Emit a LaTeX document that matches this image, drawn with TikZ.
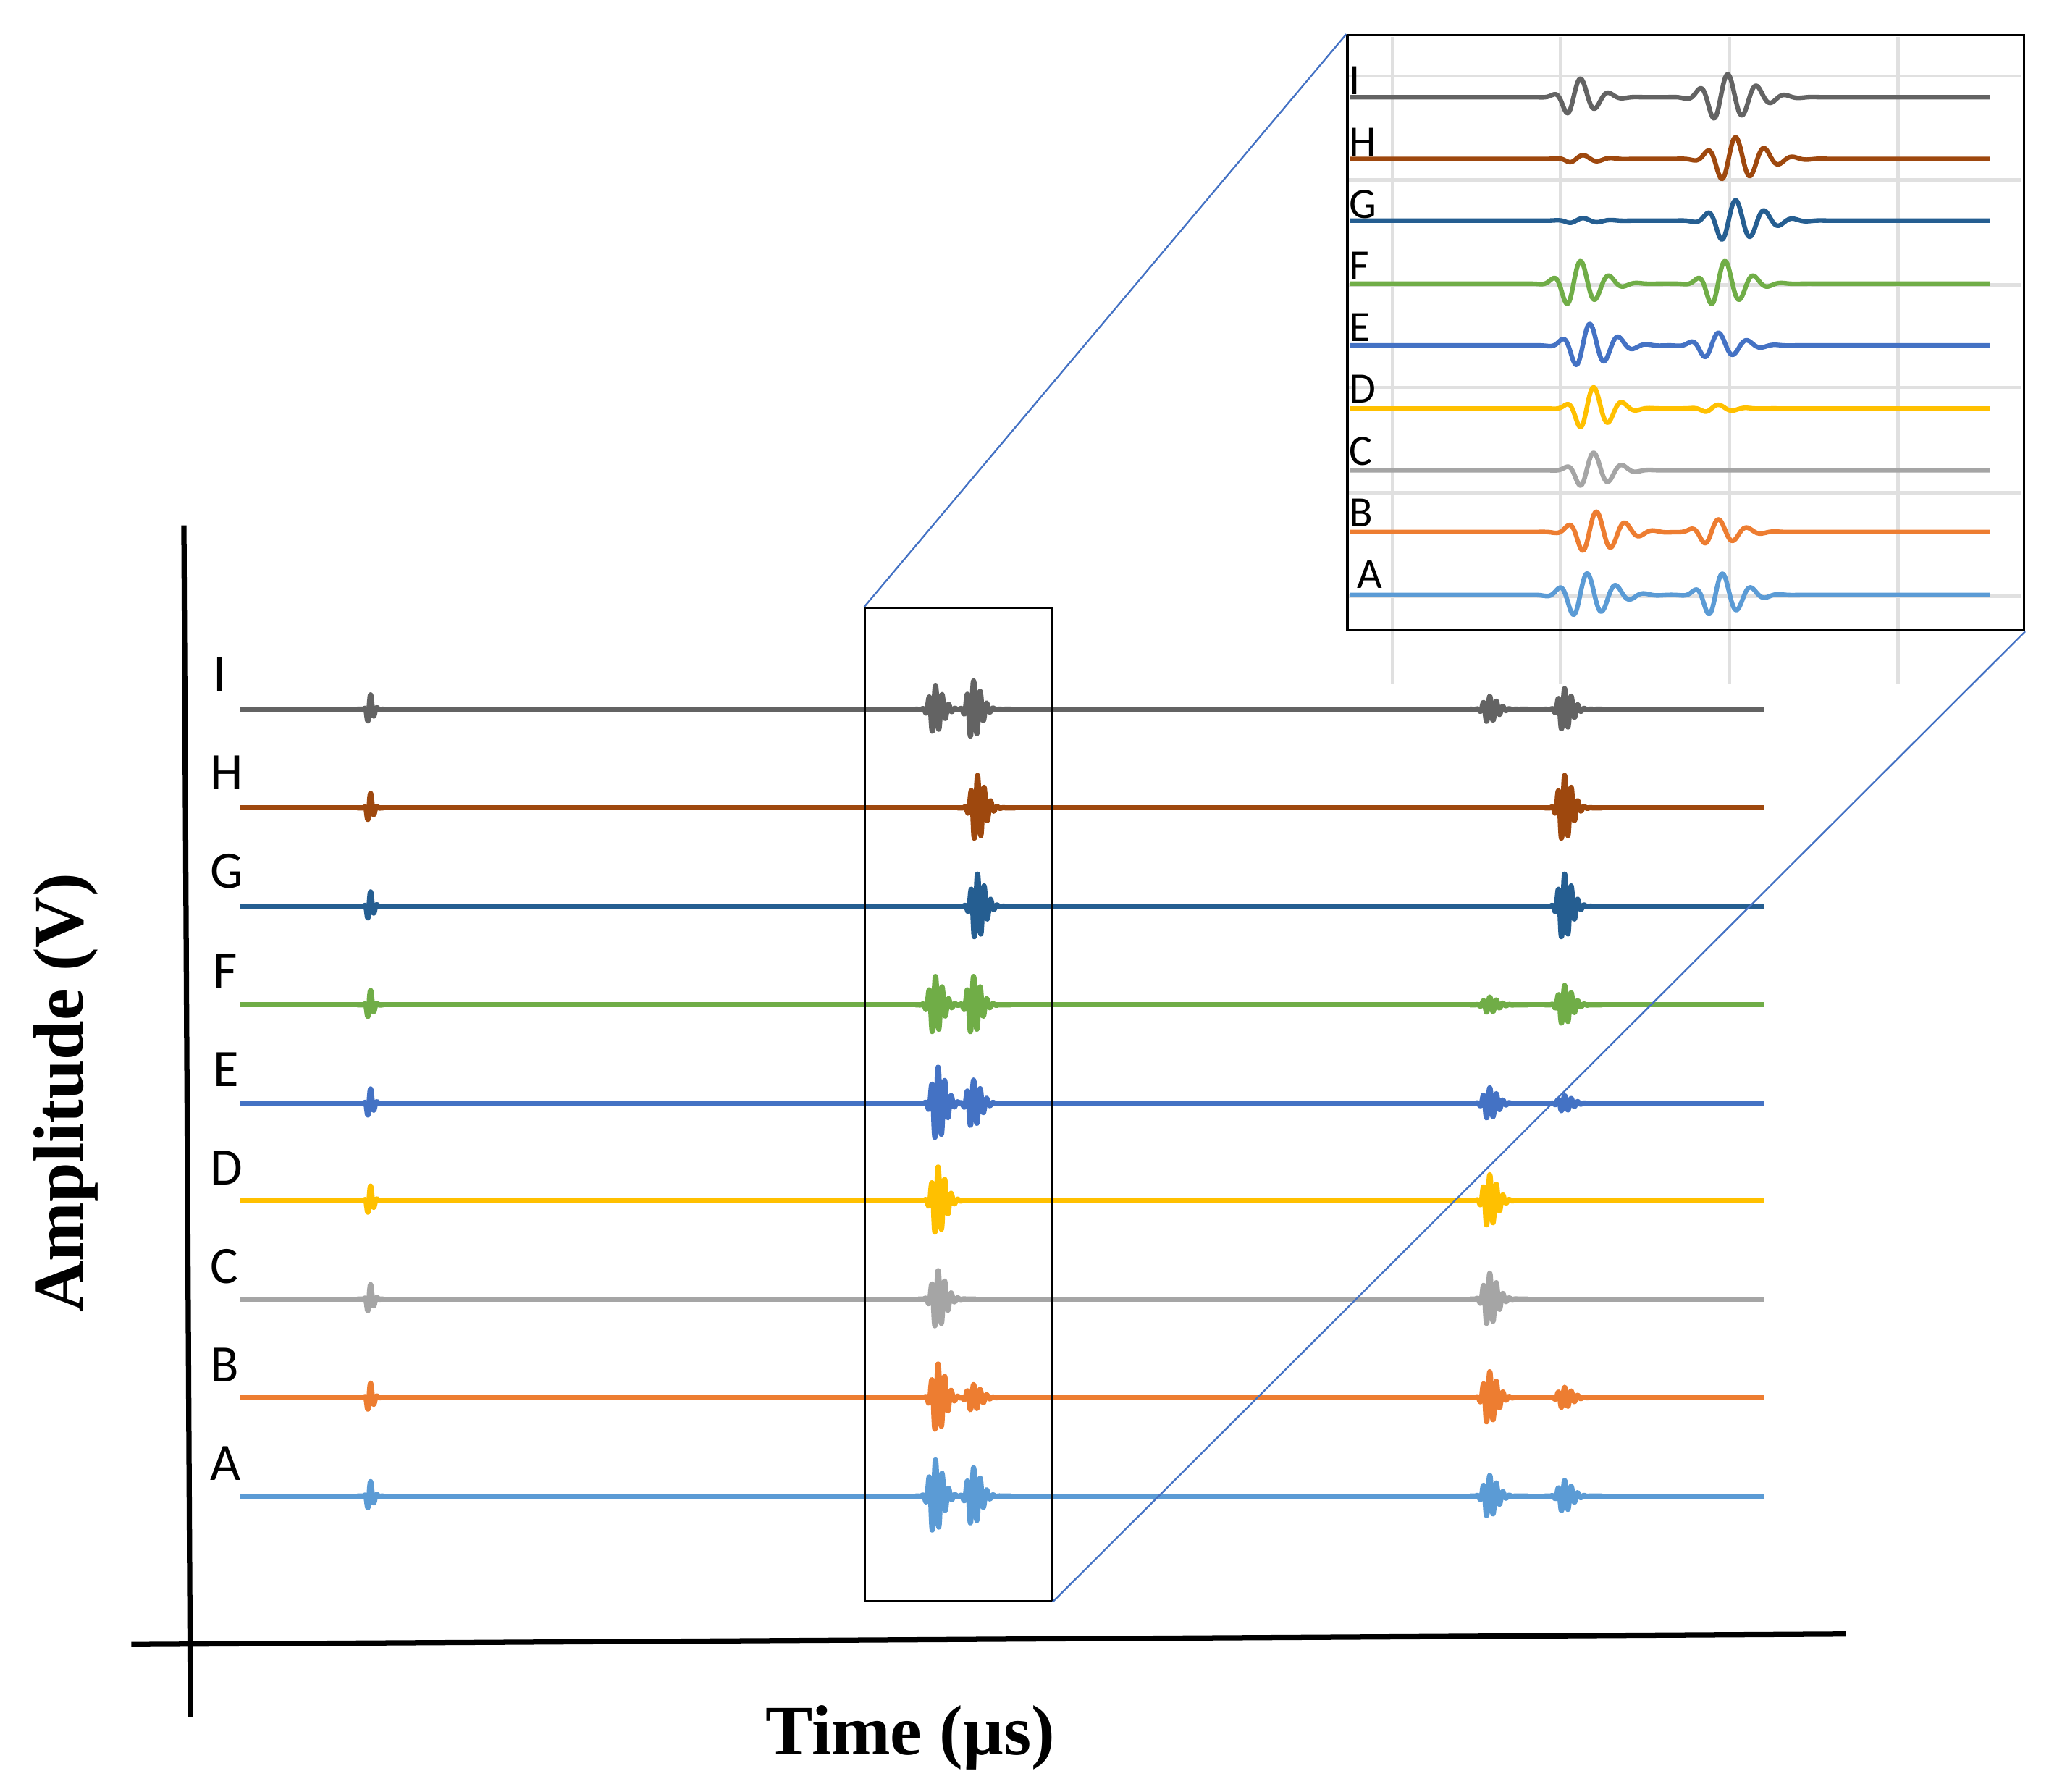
\documentclass[tikz,border=0pt]{standalone}
\usepackage{fontspec}
\setmainfont{Carlito}
\newfontfamily\serb{Liberation Serif}
\begin{document}
\begin{tikzpicture}[x=1pt,y=-1pt,
  declare function={ew(\x,\c,\w)=(\x<\c) ? 0.5*\w : \w;
    bu(\x,\c,\a,\w,\p)=\a*exp(-min(((\x-\c)/ew(\x,\c,\w))^2,30))*sin(360*((\x-\c)/\p));},
  mw/.style={line width=4pt,line join=round},
  iw/.style={line width=3.5pt,line join=round},
  lab/.style={font=\fontsize{40}{44}\selectfont,anchor=base west,inner sep=0pt},
  ilab/.style={font=\fontsize{33}{36}\selectfont,anchor=base west,inner sep=0pt},
  grid/.style={line width=2.5pt,color=black!12},
  conn/.style={line width=1.3pt,color={rgb,255:red,68;green,114;blue,196}}]
\definecolor{cI}{HTML}{636363}\definecolor{cH}{HTML}{9E480E}\definecolor{cG}{HTML}{255E91}
\definecolor{cF}{HTML}{70AD47}\definecolor{cE}{HTML}{4472C4}\definecolor{cD}{HTML}{FFC000}
\definecolor{cC}{HTML}{A5A5A5}\definecolor{cB}{HTML}{ED7D31}\definecolor{cA}{HTML}{5B9BD5}
\newcommand\mtrace[3]{%
  \draw[#1,mw] (183,#2) -- (1343,#2);
  \draw[#1,mw] plot[domain=272:292,samples=60] (\x,{#2-bu(\x,281,12,4,5)});
  \foreach \c/\a in {#3}{%
    \pgfmathsetmacro\da{\c-14}\pgfmathsetmacro\db{\c+30}
    \draw[#1,mw] plot[domain=\da:\db,samples=160] (\x,{#2-bu(\x,\c,\a,9,5)});}}
\newcommand\itrace[3]{%
  \draw[#1,iw] plot[domain=1028:1515,samples=600] (\x,{#2 #3});}
\useasboundingbox (0,0) rectangle (1560,1364);
% axes
\draw[line width=4pt] (140,400) -- (145,1307);
\draw[line width=4pt] (100,1252) -- (1405,1244);
\node[rotate=90,font=\serb\bfseries\fontsize{54}{60}\selectfont] (ylab) at (50,832) {Amplitude (V)};
\node[font=\serb\bfseries\fontsize{54}{60}\selectfont] (xlab) at (693,1323) {Time (μs)};
% main traces
\mtrace{cI}{540}{711/18,740/22,1133/10,1190/16}
\mtrace{cH}{615}{743/25,1190/25}
\mtrace{cG}{690}{743/25,1190/25}
\mtrace{cF}{765}{711/22,740/22,1133/6,1190/15}
\mtrace{cE}{840}{713/28,740/18,1133/12,1190/6}
\mtrace{cD}{914}{713/26,1133/20}
\mtrace{cC}{989}{713/22,1133/20}
\mtrace{cB}{1064}{713/26,740/10,1133/20,1190/8}
\mtrace{cA}{1139}{711/28,740/22,1133/16,1190/12}
\node[lab] (lI) at (162,526) {I};
\node[lab] (lH) at (160,601) {H};
\node[lab] (lG) at (160,676) {G};
\node[lab] (lF) at (162,752) {F};
\node[lab] (lE) at (162,827) {E};
\node[lab] (lD) at (160,902) {D};
\node[lab] (lC) at (160,977) {C};
\node[lab] (lB) at (160,1052) {B};
\node[lab] (lA) at (160,1127) {A};
% zoom box
\node[draw,line width=1.5pt,minimum width=142pt,minimum height=756pt,inner sep=0pt,anchor=north west] (zbox) at (658,462) {};
% inset
\foreach \gx in {1060,1188,1317,1445}{\draw[grid] (\gx,28) -- (\gx,521);}
\foreach \gy in {58,137,217,295,375,454}{\draw[grid] (1026,\gy) -- (1539,\gy);}
\itrace{cI}{74}{-bu(\x,1198,15,22,22)-bu(\x,1310,18,32,22)}
\itrace{cH}{121}{-bu(\x,1200,3,22,22)-bu(\x,1316,17,32,22)}
\itrace{cG}{168}{-bu(\x,1200,2,22,22)-bu(\x,1316,16,32,22)}
\itrace{cF}{216}{-bu(\x,1198,18,26,22)-bu(\x,1308,18,26,22)}
\itrace{cE}{263}{-bu(\x,1205,17,28,22)-bu(\x,1303,10,28,22)}
\itrace{cD}{311}{-bu(\x,1208,17,24,22)-bu(\x,1303,3,20,22)}
\itrace{cC}{358}{-bu(\x,1208,14,24,22)}
\itrace{cB}{405}{-bu(\x,1210,16,30,22)-bu(\x,1303,10,26,22)}
\itrace{cA}{453}{-bu(\x,1203,17,30,22)-bu(\x,1306,17,26,22)}
\node[ilab] (iI) at (1027,72) {I};
\node[ilab] (iH) at (1027,119) {H};
\node[ilab] (iG) at (1027,166) {G};
\node[ilab] (iF) at (1027,213) {F};
\node[ilab] (iE) at (1027,260) {E};
\node[ilab] (iD) at (1027,307) {D};
\node[ilab] (iC) at (1027,354) {C};
\node[ilab] (iB) at (1027,401) {B};
\node[ilab] (iA) at (1033,448) {A};
\node[draw,line width=1.8pt,minimum width=515pt,minimum height=453pt,inner sep=0pt,anchor=north west] (inset) at (1025,26) {};
\draw[conn] (zbox.north west) -- (inset.north west);
\draw[conn] (zbox.south east) -- (inset.south east);
\end{tikzpicture}
\end{document}
